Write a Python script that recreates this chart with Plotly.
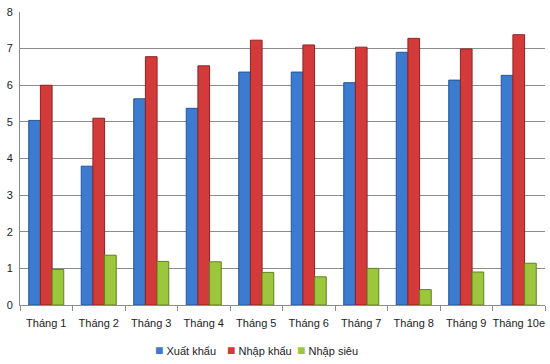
import plotly.graph_objects as go

months = ["Tháng 1", "Tháng 2", "Tháng 3", "Tháng 4", "Tháng 5",
          "Tháng 6", "Tháng 7", "Tháng 8", "Tháng 9", "Tháng 10e"]
xuat_khau = [5.04, 3.79, 5.63, 5.37, 6.36, 6.36, 6.07, 6.90, 6.14, 6.27]
nhap_khau = [6.00, 5.10, 6.78, 6.53, 7.23, 7.10, 7.04, 7.28, 6.99, 7.38]
nhap_sieu = [0.97, 1.36, 1.19, 1.18, 0.89, 0.77, 1.00, 0.42, 0.90, 1.14]

series = [
    ("Xuất khẩu", xuat_khau, "#3c7bd0", "#24559a"),
    ("Nhập khẩu", nhap_khau, "#d33b3b", "#8e2323"),
    ("Nhập siêu", nhap_sieu, "#9cc63c", "#62821f"),
]

FONT = "Liberation Sans"

fig = go.Figure()
for name, vals, col, line in series:
    fig.add_trace(go.Bar(
        x=months, y=vals, name=name, showlegend=False,
        marker=dict(color=col, line=dict(color=line, width=1)),
    ))

# compact legend drawn as annotations (small squares like the original)
legend_px = [153, 225, 295]
L, R = 20, 5
W = 550 - L - R
for (name, vals, col, line), px in zip(series, legend_px):
    fig.add_annotation(
        xref="paper", yref="paper", x=(px - L) / W, y=-0.154,
        xanchor="left", yanchor="middle", showarrow=False,
        text=f"<span style='color:{col};font-size:14px'>■</span> {name}",
        font=dict(family=FONT, size=11, color="#222222"),
    )

fig.update_layout(
    width=550, height=364,
    margin=dict(l=L, r=R, t=12, b=59),
    paper_bgcolor="white", plot_bgcolor="white",
    barmode="group", bargap=0.333, bargroupgap=0,
    font=dict(family=FONT, size=11, color="#222222"),
    showlegend=False,
    xaxis=dict(showline=True, linecolor="#8c8c8c", linewidth=1,
               ticks="outside", tickson="boundaries", ticklen=5, tickcolor="#8c8c8c",
               showgrid=False, tickangle=0, automargin=False, ticklabelstandoff=8,
               tickfont=dict(family=FONT, size=11)),
    yaxis=dict(range=[0, 8], dtick=1, showline=True, linecolor="#8c8c8c", linewidth=1,
               showgrid=True, gridcolor="#8c8c8c", gridwidth=1, ticks="",
               zeroline=False, automargin=False, ticklabelstandoff=4,
               tickfont=dict(family=FONT, size=11)),
)

fig.write_html("out.html", config={"displayModeBar": False},
               post_script="document.body.style.margin='0';document.body.style.overflow='hidden';")
